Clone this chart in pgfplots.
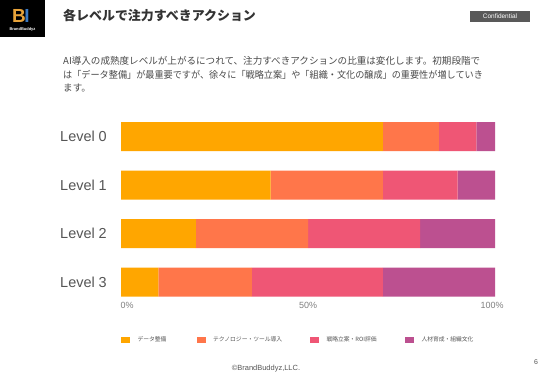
\documentclass[border=0pt]{standalone}
\usepackage{pgfplots}
\pgfplotsset{compat=1.18}
\usepackage{fontspec}
\usepackage{graphicx}
\setmainfont{Liberation Sans}
\newfontfamily\jp{Noto Sans CJK JP}
\definecolor{c1}{HTML}{FFA600}
\definecolor{c2}{HTML}{FF764A}
\definecolor{c3}{HTML}{EF5675}
\definecolor{c4}{HTML}{BC5090}
\definecolor{tgray}{HTML}{333333}
\definecolor{dgray}{HTML}{4A4A4A}
\definecolor{lgray}{HTML}{555555}
\definecolor{tickgray}{HTML}{808080}
\definecolor{confgray}{HTML}{595959}
\definecolor{logogold}{HTML}{E8A33A}
\definecolor{logoblue}{HTML}{3A78C2}
\begin{document}
\begin{tikzpicture}[x=1bp,y=1bp]
\path[fill=white,use as bounding box] (0,0) rectangle (550,380);
% logo
\fill[black] (0,343) rectangle (45,380);
\node[text=logogold,font=\fontsize{19}{19}\selectfont\bfseries\rmfamily,inner sep=0pt] at (19,364) {B};
\node[text=logoblue,font=\fontsize{19}{19}\selectfont\bfseries\rmfamily,inner sep=0pt] at (27,364) {I};
\node[text=white,font=\fontsize{4}{4}\selectfont\bfseries,inner sep=0pt] at (22.5,351) {BrandBuddyz};
% title
\node[anchor=west,inner sep=0pt,text=tgray,font=\jp\bfseries\fontsize{13}{15}\selectfont] at (63,364) {各レベルで注力すべきアクション};
% confidential
\fill[confgray] (470,358) rectangle (530,369);
\node[text=white,font=\fontsize{6.5}{7}\selectfont,inner sep=0pt] at (500,363.5) {Confidential};
% description
\node[anchor=west,inner sep=0pt,text=dgray,font=\jp\fontsize{9.6}{12}\selectfont] at (63,319) {AI導入の成熟度レベルが上がるにつれて、注力すべきアクションの比重は変化します。初期段階で};
\node[anchor=west,inner sep=0pt,text=dgray,font=\jp\fontsize{9.6}{12}\selectfont] at (63,305.5) {\scalebox{0.955}[1]{は「データ整備」が最重要ですが、徐々に「戦略立案」や「組織・文化の醸成」の重要性が増していき}};
\node[anchor=west,inner sep=0pt,text=dgray,font=\jp\fontsize{9.6}{12}\selectfont] at (63,292) {ます。};
% footer
\node[text=lgray,font=\fontsize{7.5}{8}\selectfont,inner sep=0pt] at (266,11) {©BrandBuddyz,LLC.};
\node[text=lgray,font=\fontsize{7}{8}\selectfont,inner sep=0pt] at (536,18) {6};
\begin{axis}[
  at={(121bp,83.3bp)}, anchor=south west,
  scale only axis, width=374bp, height=174.7bp,
  xbar stacked, bar width=29bp,
  xmin=0, xmax=100, ymin=-0.3, ymax=3.3,
  y dir=reverse,
  ytick={0,1,2,3}, yticklabels={Level 0,Level 1,Level 2,Level 3},
  xtick={0,50,100}, xticklabels={\hspace*{12bp}0\%,50\%,100\%\hspace*{6bp}},
  axis line style={draw=none}, tick style={draw=none},
  yticklabel style={font=\fontsize{14.5}{17}\selectfont, text=lgray, inner sep=0pt, xshift=-14bp},
  xticklabel style={font=\fontsize{9}{10}\selectfont, text=tickgray, inner sep=0pt, yshift=-5bp},
  legend columns=4,
  legend style={at={(axis description cs:0,-0.2455)}, anchor=west, draw=none, fill=none,
    inner sep=0pt, outer sep=0pt, font=\jp\fontsize{5.8}{6}\selectfont, text=lgray,
    nodes={inner sep=0pt, anchor=west},
    /tikz/every odd column/.append style={column sep=7.5bp}},
  legend image code/.code={\fill[#1] (0bp,-3bp) rectangle (9bp,3bp);},
]
\addplot[fill=c1,draw=none] coordinates {(70,0) (40,1) (20,2) (10,3)};
\addlegendentry{\makebox[59.2bp][l]{データ整備}}
\addplot[fill=c2,draw=none] coordinates {(15,0) (30,1) (30,2) (25,3)};
\addlegendentry{\makebox[96.8bp][l]{テクノロジー・ツール導入}}
\addplot[fill=c3,draw=none] coordinates {(10,0) (20,1) (30,2) (35,3)};
\addlegendentry{\makebox[78.5bp][l]{戦略立案・ROI評価}}
\addplot[fill=c4,draw=none] coordinates {(5,0) (10,1) (20,2) (30,3)};
\addlegendentry{人材育成・組織文化}
\end{axis}
\end{tikzpicture}
\end{document}
